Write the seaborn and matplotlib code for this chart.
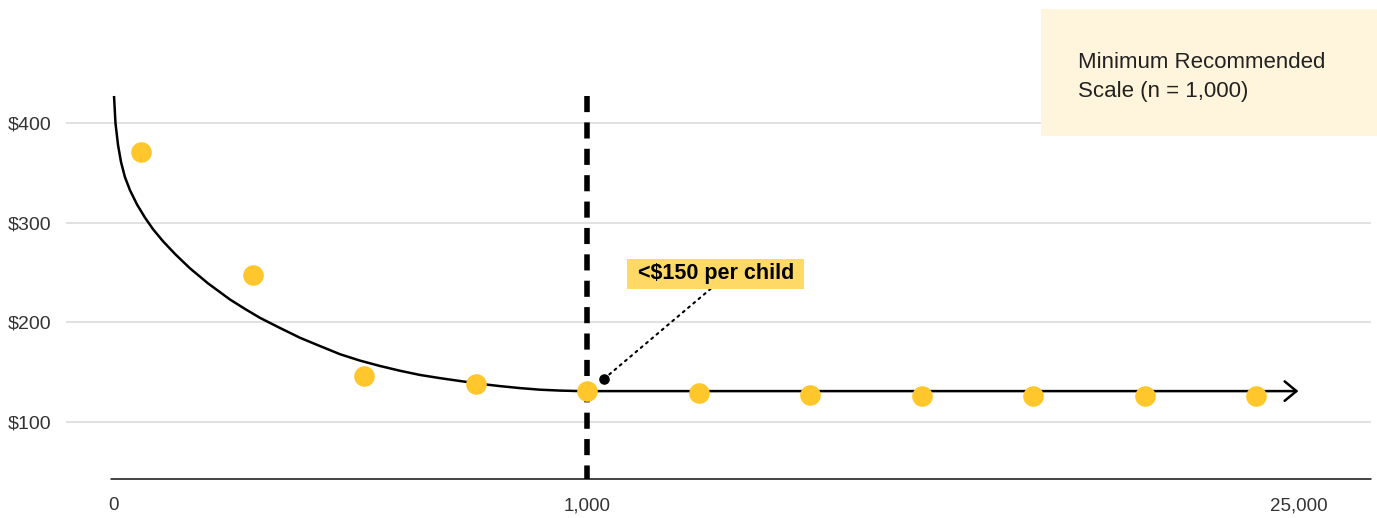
import matplotlib
matplotlib.use("Agg")
import matplotlib.pyplot as plt
import matplotlib.patches as mpatches
import seaborn as sns
import pandas as pd

# Cost per child at each programme scale step (positions along the scale axis)
scale_pos = [0, 1, 2, 3, 4, 5, 6, 7, 8, 9, 10]
cost_per_child = [371, 247, 146, 138, 131, 129, 127, 126, 126, 126, 126]

# Hand-drawn trend curve of cost against scale
curve_pos = [-0.242, -0.229, -0.206, -0.179, -0.144, -0.099, -0.036, 0.036,
             0.108, 0.197, 0.305, 0.439, 0.601, 0.798, 0.933, 1.067, 1.247,
             1.426, 1.605, 1.785, 1.964, 2.143, 2.323, 2.502, 2.682, 2.861,
             3.040, 3.220, 3.399, 3.578, 3.758, 3.937]
curve_cost = [427.1, 400.0, 377.9, 360.7, 345.7, 332.6, 318.3, 305.0,
              293.4, 281.4, 268.6, 254.2, 239.1, 222.9, 213.4, 204.5, 194.3,
              184.5, 176.2, 168.0, 161.6, 156.2, 151.4, 147.2, 144.0, 141.1,
              138.3, 136.0, 134.0, 132.4, 131.5, 131.0]
plateau_cost = 131
arrow_end_pos = 10.38

# Axis ticks
y_ticks = [100, 200, 300, 400]
y_tick_labels = ["$100", "$200", "$300", "$400"]
x_tick_pos = [-0.25, 4.0, 10.38]
x_tick_labels = ["0", "1,000", "25,000"]

threshold_pos = 4.0
callout_point = (4.15, 143)
callout_text = "<$150 per child"
legend_lines = ["Minimum Recommended", "Scale (n = 1,000)"]

sns.set_theme(style="white")
plt.rcParams["font.family"] = ["Liberation Sans", "DejaVu Sans"]

POINT_YELLOW = "#FFC72C"
CALLOUT_YELLOW = "#FFD966"
CREAM = "#FFF5DC"
GRID = "#D9D9D9"
TEXT = "#333333"

fig = plt.figure(figsize=(13.77, 5.18), dpi=100)
ax = fig.add_axes([66 / 1377, 39 / 518, 1305 / 1377, 389 / 518])

xmin, xmax = -0.6726, 11.031
ymin, ymax = 42.8, 433.1
ax.set_xlim(xmin, xmax)
ax.set_ylim(ymin, ymax)

for s in ax.spines.values():
    s.set_visible(False)

# horizontal grid
for yv in y_ticks:
    ax.axhline(yv, color=GRID, lw=1.1, zorder=0)

# baseline
ax.axhline(ymin, xmin=45 / 1305, xmax=1.0, color="#111111", lw=1.1,
           zorder=1, clip_on=False)

# trend curve
curve_df = pd.DataFrame({"pos": curve_pos, "cost": curve_cost})
sns.lineplot(data=curve_df, x="pos", y="cost", sort=False, color="black",
             lw=1.8, ax=ax, zorder=3, estimator=None,
             solid_joinstyle="round", solid_capstyle="butt")

# plateau with arrow
ax.annotate("", xy=(arrow_end_pos, plateau_cost),
            xytext=(curve_pos[-1], plateau_cost),
            arrowprops=dict(arrowstyle="->,head_length=0.85,head_width=0.7",
                            lw=1.8, color="black", shrinkA=0, shrinkB=0,
                            mutation_scale=10),
            zorder=3)

# threshold line
ax.plot([threshold_pos, threshold_pos], [427, ymin], color="black", lw=4.0,
        dashes=(2.9, 1.85), solid_capstyle="butt", dash_capstyle="butt",
        zorder=2, clip_on=False)

# data points
pts = pd.DataFrame({"pos": scale_pos, "cost": cost_per_child})
sns.scatterplot(data=pts, x="pos", y="cost", color=POINT_YELLOW, s=220,
                linewidth=0, ax=ax, zorder=4)

# callout
ax.scatter([callout_point[0]], [callout_point[1]], s=58, color="black",
           zorder=5, linewidth=0)
ax.annotate(" " + callout_text + " ", xy=callout_point, xytext=(5.155, 248.5),
            ha="center", va="center", fontsize=15.5, fontweight="bold",
            color="black",
            bbox=dict(boxstyle="square,pad=0.2", fc=CALLOUT_YELLOW, ec="none"),
            arrowprops=dict(arrowstyle="-", color="black", lw=1.5,
                            linestyle=(0, (1, 2.3)), shrinkA=0, shrinkB=4,
                            relpos=(0.5, 0.0)),
            zorder=6)

# ticks
ax.set_yticks(y_ticks)
ax.set_yticklabels(y_tick_labels)
ax.set_xticks(x_tick_pos)
ax.set_xticklabels(x_tick_labels)
ax.tick_params(axis="y", length=0, pad=10.8, labelsize=14, labelcolor=TEXT)
ax.tick_params(axis="x", length=0, pad=13, labelsize=13.5, labelcolor=TEXT)
ax.set_xlabel("")
ax.set_ylabel("")

# legend box
fig.patches.append(mpatches.Rectangle((1041 / 1377, 382 / 518), 336 / 1377,
                                      127 / 518, transform=fig.transFigure,
                                      facecolor=CREAM, edgecolor="none",
                                      zorder=10))
fig.text(1078 / 1377, (518 - 68) / 518, legend_lines[0], fontsize=16,
         color="#222222", va="baseline", ha="left", zorder=11)
fig.text(1078 / 1377, (518 - 97) / 518, legend_lines[1], fontsize=16,
         color="#222222", va="baseline", ha="left", zorder=11)

fig.savefig("out.png", dpi=100)
